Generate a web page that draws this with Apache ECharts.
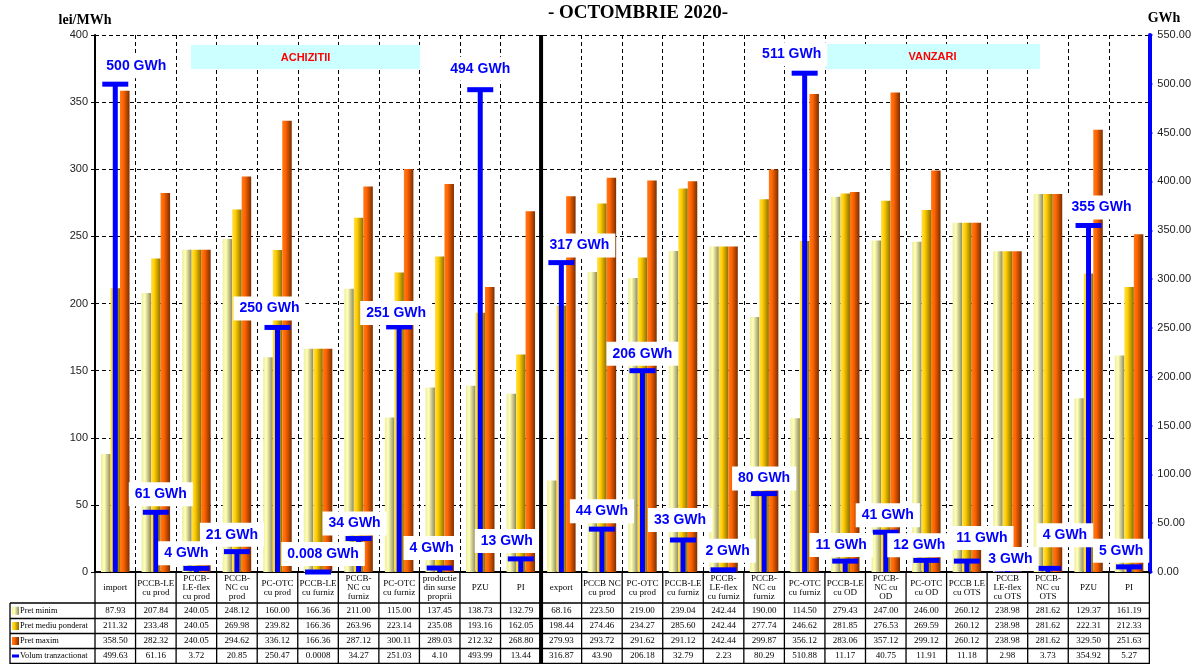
<!DOCTYPE html>
<html>
<head>
<meta charset="utf-8">
<script src="https://cdn.jsdelivr.net/npm/echarts@6/dist/echarts.min.js"></script>
<style>
html,body{margin:0;padding:0;background:#fff;}
#chart{width:1194px;height:664px;}
</style>
</head>
<body>
<div id="chart"></div>
<script>
const categories = [
  'import','PCCB-LE\ncu prod','PCCB-\nLE-flex\ncu prod','PCCB-\nNC cu\nprod','PC-OTC\ncu prod',
  'PCCB-LE\ncu furniz','PCCB-\nNC cu\nfurniz','PC-OTC\ncu furniz','productie\ndin surse\nproprii','PZU','PI',
  'export','PCCB NC\ncu prod','PC-OTC\ncu prod','PCCB-LE\ncu furniz','PCCB-\nLE-flex\ncu furniz',
  'PCCB-\nNC cu\nfurniz','PC-OTC\ncu furniz','PCCB-LE\ncu OD','PCCB-\nNC cu\nOD','PC-OTC\ncu OD',
  'PCCB LE\ncu OTS','PCCB\nLE-flex\ncu OTS','PCCB-\nNC cu\nOTS','PZU','PI'
];
const priceMin = [87.93,207.84,240.05,248.12,160.00,166.36,211.00,115.00,137.45,138.73,132.79,
  68.16,223.50,219.00,239.04,242.44,190.00,114.50,279.43,247.00,246.00,260.12,238.98,281.62,129.37,161.19];
const priceAvg = [211.32,233.48,240.05,269.98,239.82,166.36,263.96,223.14,235.08,193.16,162.05,
  198.44,274.46,234.27,285.60,242.44,277.74,246.62,281.85,276.53,269.59,260.12,238.98,281.62,222.31,212.33];
const priceMax = [358.50,282.32,240.05,294.62,336.12,166.36,287.12,300.11,289.03,212.32,268.80,
  279.93,293.72,291.62,291.12,242.44,299.87,356.12,283.06,357.12,299.12,260.12,238.98,281.62,329.50,251.63];
const volume = [499.63,61.16,3.72,20.85,250.47,0.0008,34.27,251.03,4.10,493.99,13.44,
  316.87,43.90,206.18,32.79,2.23,80.29,510.88,11.17,40.75,11.91,11.18,2.98,3.73,354.92,5.27];
const volumeLabels = ['500 GWh','61 GWh','4 GWh','21 GWh','250 GWh','0.008 GWh','34 GWh','251 GWh','4 GWh','494 GWh','13 GWh',
  '317 GWh','44 GWh','206 GWh','33 GWh','2 GWh','80 GWh','511 GWh','11 GWh','41 GWh','12 GWh','11 GWh','3 GWh','4 GWh','355 GWh','5 GWh'];
const seriesNames = ['Pret minim','Pret mediu ponderat','Pret maxim','Volum tranzactionat'];
const leftTicks = {min:0, max:400, interval:50};
const rightTicks = {min:0, max:550, interval:50};

// label nudges (style only): [dx, dy] relative to the cap
const labelNudge = [[21,-18],[5,-18],[-10,-15],[-5,-17],[-8,-19],[5,-18],[-4,-15],[-3,-14],[-8,-20],[0,-21],[-14,-18],
  [18,-17],[0,-18],[0,-17],[-3,-20],[4,-19],[0,-15],[-13,-19],[-4,-16],[2,-17],[-7,-15],[15,-23],[3,-10],[17,-33],[13,-18],[-8,-16]];

const SERIF = 'Liberation Serif';
const SANS = 'Liberation Sans';

function grad(c0, c1, c2){
  return new echarts.graphic.LinearGradient(0,0,1,0,[
    {offset:0,color:c0},{offset:0.35,color:c1},{offset:1,color:c2}]);
}
const colMin = grad('#eeeea0','#ffffb8','#8e8a5c');
const colAvg = grad('#ffe24a','#ffcc00','#8a6e00');
const colMax = grad('#ff7a1a','#ff6400','#7a2e00');

const chart = echarts.init(document.getElementById('chart'), null, {renderer:'canvas'});

const option = {
  animation:false,
  backgroundColor:'#ffffff',
  grid:{left:95,right:44,top:35,bottom:92},
  xAxis:{
    type:'category', data:categories,
    axisLine:{show:true, lineStyle:{color:'#000',width:2}},
    axisTick:{show:false},
    axisLabel:{interval:0, fontFamily:SERIF, fontSize:9, lineHeight:9, color:'#000', verticalAlign:'middle', margin:16},
    splitLine:{show:true, interval:0, lineStyle:{color:'#000', type:[4,3], width:1}}
  },
  yAxis:[
    {type:'value', min:leftTicks.min, max:leftTicks.max, interval:leftTicks.interval,
     axisLine:{show:true, lineStyle:{color:'#000',width:2}},
     axisTick:{show:true, length:4, lineStyle:{color:'#000'}},
     axisLabel:{fontFamily:SANS, fontSize:11, color:'#222', margin:7},
     splitLine:{show:true, lineStyle:{color:'#000', type:[4,3], width:1}}},
    {type:'value', min:rightTicks.min, max:rightTicks.max, interval:rightTicks.interval, position:'right',
     axisLine:{show:true, lineStyle:{color:'#0000ff',width:4}},
     axisTick:{show:true, length:3, lineStyle:{color:'#0000ff', width:2}},
     axisLabel:{fontFamily:SANS, fontSize:11, color:'#222', margin:8, formatter:v=>v.toFixed(2)},
     splitLine:{show:false}}
  ],
  series:[
    {name:seriesNames[0], type:'bar', data:priceMin, barWidth:9.5, barGap:'0%', itemStyle:{color:colMin}, z:2},
    {name:seriesNames[1], type:'bar', data:priceAvg, barWidth:9.5, barGap:'0%', itemStyle:{color:colAvg}, z:2},
    {name:seriesNames[2], type:'bar', data:priceMax, barWidth:9.5, barGap:'0%', itemStyle:{color:colMax}, z:2},
    {name:seriesNames[3], type:'custom', yAxisIndex:1, z:5,
     data:volume.map((v,i)=>[i,v]), encode:{x:0,y:1},
     renderItem:function(params, api){
       const i = api.value(0), v = api.value(1);
       const top = api.coord([i, v]);
       const base = api.coord([i, 0]);
       const nd = labelNudge[params.dataIndex];
       return {type:'group', children:[
         {type:'rect', shape:{x:top[0]-2.5, y:top[1], width:5, height:Math.max(0, base[1]-top[1])}, style:{fill:'#0000ff'}},
         {type:'rect', shape:{x:top[0]-13, y:top[1]-2.5, width:26, height:5}, style:{fill:'#0000ff'}},
         {type:'text', x:top[0]+nd[0], y:top[1]+nd[1], z2:10,
          style:{text:volumeLabels[params.dataIndex], fill:'#0000ff', font:'bold 14px '+SANS,
                 align:'center', verticalAlign:'middle', backgroundColor:'#ffffff', padding:[5,6]}}
       ]};
     }}
  ]
};
chart.setOption(option);

// build table + annotations from axis pixel positions
const c0 = chart.convertToPixel({xAxisIndex:0}, 0);
const c1 = chart.convertToPixel({xAxisIndex:0}, 1);
const bw = c1 - c0;
const leftEdge = c0 - bw/2;
const n = categories.length;
const rightEdge = leftEdge + n*bw;
const yZero = chart.convertToPixel({yAxisIndex:0}, 0);
const yTop = chart.convertToPixel({yAxisIndex:0}, 400);
const rowTops = [603, 618.5, 633.5, 648.5, 663.5];
const g = [];
const fmt = v => (v < 0.01 ? String(v) : v.toFixed(2));
const rows = [priceMin, priceAvg, priceMax, volume];

for(let k=0;k<=n;k++){
  const x = leftEdge + k*bw;
  if(k===11) continue;
  g.push({type:'line', shape:{x1:x,y1:yZero,x2:x,y2:664}, style:{stroke:'#000',lineWidth:1.3}, z:20});
}
// separator
g.push({type:'line', shape:{x1:leftEdge+11*bw,y1:yTop,x2:leftEdge+11*bw,y2:664}, style:{stroke:'#000',lineWidth:4}, z:30});
// horizontal lines
rowTops.forEach(y=>{
  g.push({type:'line', shape:{x1:10,y1:y,x2:rightEdge,y2:y}, style:{stroke:'#000',lineWidth:1.3}, z:20});
});
g.push({type:'line', shape:{x1:10,y1:rowTops[0],x2:10,y2:664}, style:{stroke:'#000',lineWidth:1.3}, z:20});

// cell values
rows.forEach((arr, r)=>{
  const yc = (rowTops[r]+rowTops[r+1])/2;
  arr.forEach((v,i)=>{
    g.push({type:'text', x:leftEdge+(i+0.5)*bw, y:yc, z:21,
      style:{text:fmt(v), font:'9px '+SERIF, fill:'#000', align:'center', verticalAlign:'middle'}});
  });
  // legend cell
  if(r<3){
    const cols = [colMin,colAvg,colMax];
    g.push({type:'rect', shape:{x:12,y:yc-4,width:7,height:8}, style:{fill:cols[r]}, z:21});
  } else {
    g.push({type:'rect', shape:{x:12,y:yc-1.5,width:7,height:3}, style:{fill:'#0000ff'}, z:21});
  }
  g.push({type:'text', x:20, y:yc, z:21,
    style:{text:seriesNames[r], font:'8.4px '+SERIF, fill:'#000', align:'left', verticalAlign:'middle'}});
});

// annotations
g.push({type:'rect', shape:{x:191,y:45,width:229,height:24}, style:{fill:'#ccffff'}, z:3});
g.push({type:'text', x:305.5, y:57.5, z:4, style:{text:'ACHIZITII', font:'bold 11px '+SANS, fill:'#ff0000', align:'center', verticalAlign:'middle'}});
g.push({type:'rect', shape:{x:825,y:44,width:215,height:25}, style:{fill:'#ccffff'}, z:3});
g.push({type:'text', x:932.5, y:56.5, z:4, style:{text:'VANZARI', font:'bold 11px '+SANS, fill:'#ff0000', align:'center', verticalAlign:'middle'}});

// titles
g.push({type:'text', x:638, y:13, z:4, style:{text:'- OCTOMBRIE 2020-', font:'bold 19px '+SERIF, fill:'#000', align:'center', verticalAlign:'middle'}});
g.push({type:'text', x:85, y:20, z:4, style:{text:'lei/MWh', font:'bold 14px '+SERIF, fill:'#000', align:'center', verticalAlign:'middle'}});
g.push({type:'text', x:1164, y:18, z:4, style:{text:'GWh', font:'bold 14px '+SERIF, fill:'#000', align:'center', verticalAlign:'middle'}});

chart.setOption({graphic:{elements:g}});
</script>
</body>
</html>
